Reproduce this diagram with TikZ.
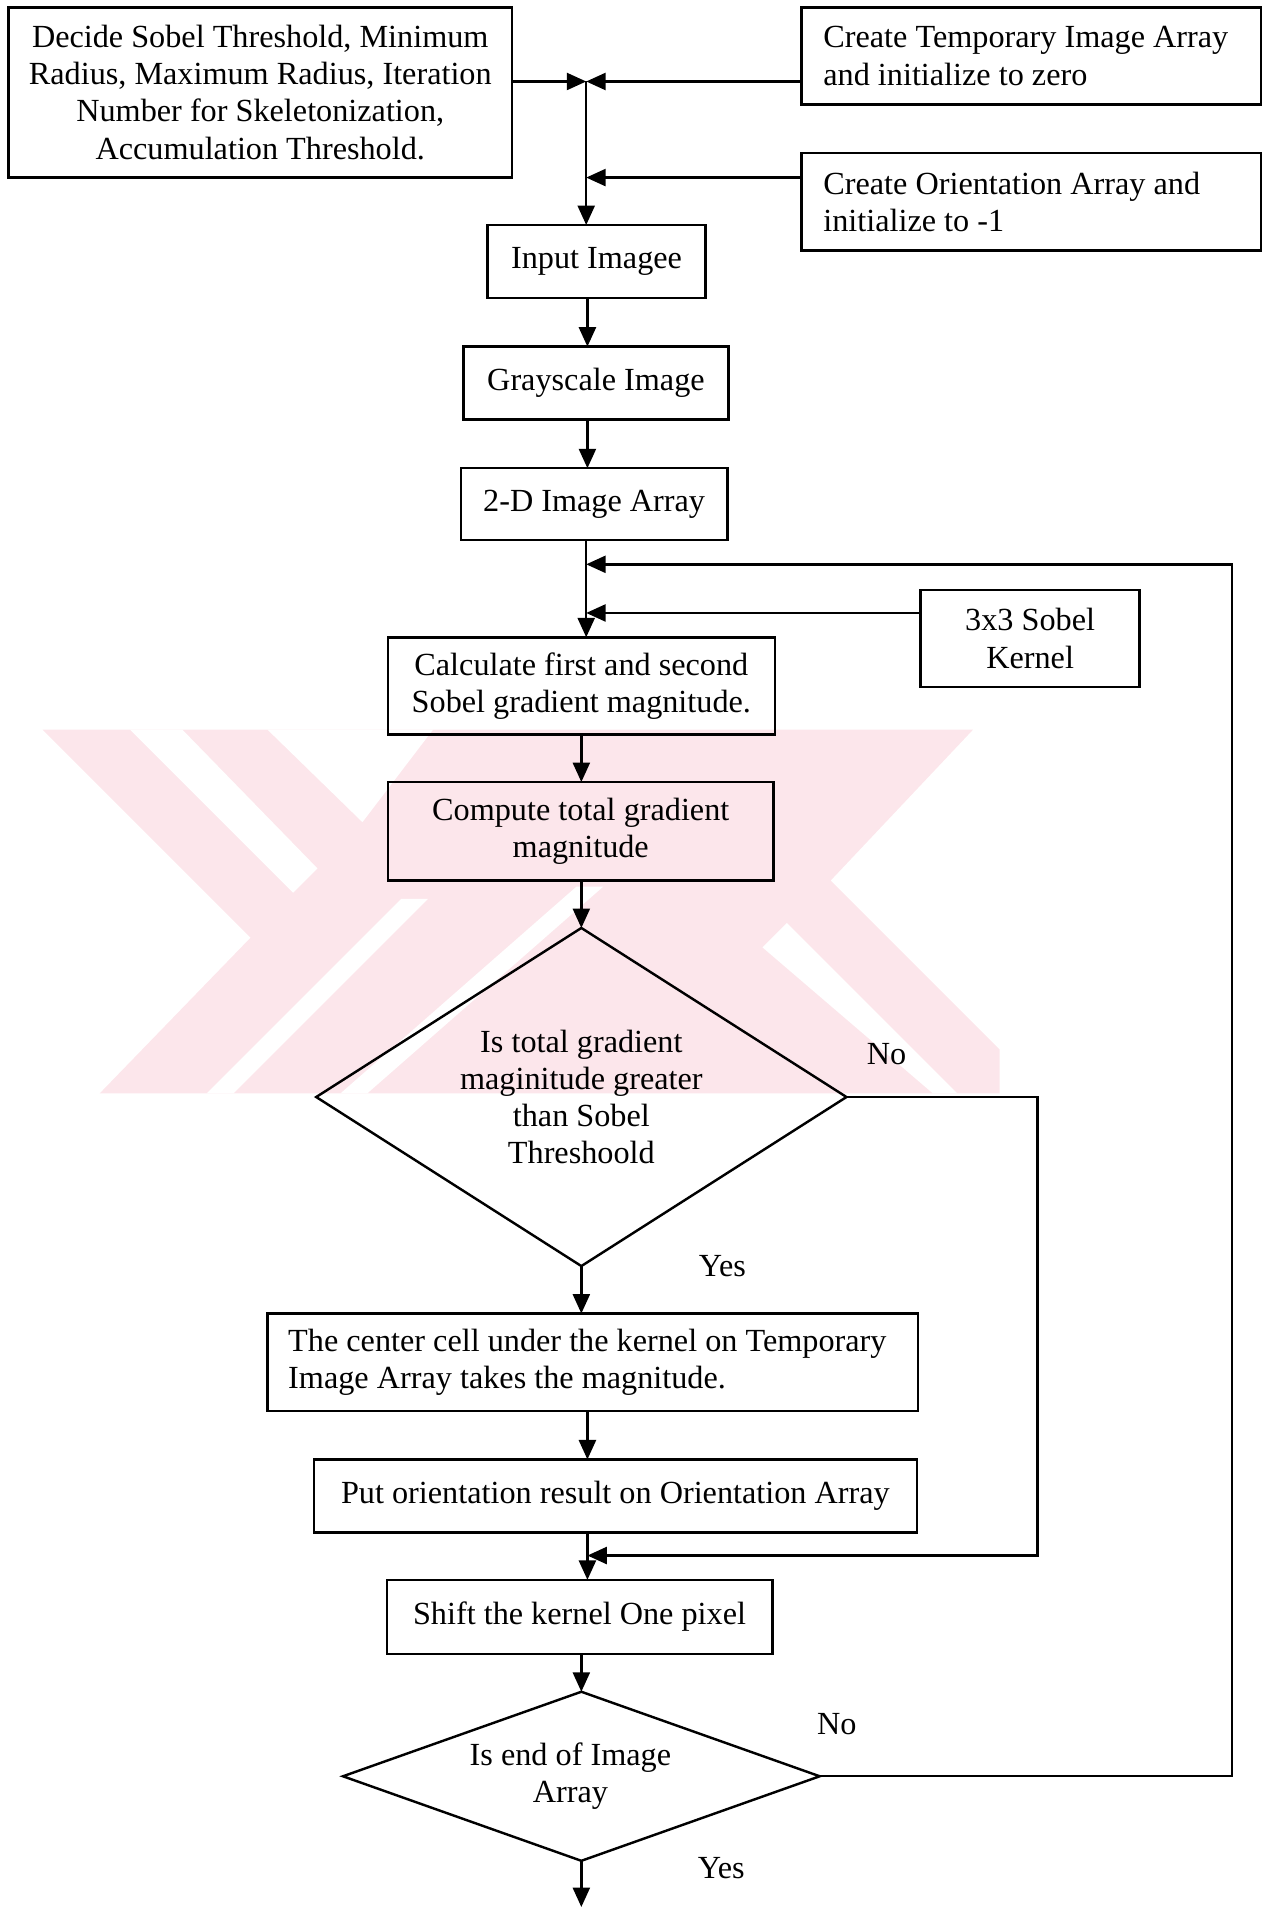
\documentclass[tikz,border=0pt]{standalone}
\usepackage{fontspec}
\setmainfont{Liberation Serif}
\usetikzlibrary{arrows.meta,shapes.geometric}
\definecolor{wmark}{RGB}{252,230,235}
\begin{document}
\begin{tikzpicture}[x=1pt,y=-1pt,
  every node/.style={font=\fontsize{26.5}{30.5}\selectfont, inner sep=0pt, outer sep=0pt},
  box/.style={draw, line width=2pt, rectangle, align=center},
  lbox/.style={draw, line width=2pt, rectangle, align=flush left},
  dec/.style={draw, line width=2pt, diamond, align=center},
  arr/.style={line width=2pt, -{Triangle[length=16pt,width=14pt]}},
]
\useasboundingbox (0,0) rectangle (1042,1568);

% faint background emblem
\fill[wmark] (35,600) -- (800,600) -- (683,724) -- (822,863) -- (822,899) -- (82,899) -- (206,771) -- cycle;
\fill[white] (107,600) -- (150,600) -- (261,714) -- (241,734) -- cycle;
\fill[white] (220,600) -- (356,600) -- (298,676) -- cycle;
\fill[white] (170,899) -- (192,899) -- (352,739) -- (330,739) -- cycle;
\fill[white] (280,899) -- (302,899) -- (496,729) -- (474,729) -- cycle;
\fill[white] (627,779) -- (647,759) -- (787,899) -- (767,899) -- cycle;

% column positions of the main vertical flow
\coordinate (cA) at (483,0);
\coordinate (cB) at (478,0);
\coordinate (cJ) at (482,0);

% process boxes
\node[box, minimum width=414pt, minimum height=140pt] (decide) at (214,76)
  {Decide Sobel Threshold, Minimum\\Radius, Maximum Radius, Iteration\\Number for Skeletonization,\\Accumulation Threshold.};
\node[lbox, inner xsep=18pt, text width=342pt, minimum height=80pt] (temp) at (848,46)
  {Create Temporary Image Array\\and initialize to zero};
\node[lbox, inner xsep=18pt, text width=342pt, minimum height=80pt] (orient) at (848,166)
  {Create Orientation Array and\\initialize to -1};
\node[box, minimum width=179pt, minimum height=60pt] (input) at (490.5,215) {Input Imagee};
\node[box, minimum width=218pt, minimum height=60pt] (gray) at (490,315) {Grayscale Image};
\node[box, minimum width=219pt, minimum height=59pt] (arr2d) at (488.5,414.5) {2-D Image Array};
\node[box, minimum width=180pt, minimum height=80pt] (sobel) at (847,525) {3x3 Sobel\\Kernel};
\node[box, minimum width=318pt, minimum height=80pt] (calc) at (478,564)
  {Calculate first and second\\Sobel gradient magnitude.};
\node[box, minimum width=317pt, minimum height=81pt] (comp) at (477.5,683.5)
  {Compute total gradient\\magnitude};
\node[dec, aspect=1.568, minimum width=436pt, minimum height=278pt] (dia1) at (478,902)
  {Is total gradient\\maginitude greater\\than Sobel\\Threshoold};
\node[lbox, inner xsep=17pt, text width=501pt, minimum height=80pt] (center) at (487.5,1120)
  {The center cell under the kernel on Temporary\\Image Array takes the magnitude.};
\node[box, minimum width=496pt, minimum height=60pt] (put) at (506,1230)
  {Put orientation result on Orientation Array};
\node[box, minimum width=317pt, minimum height=61pt] (shift) at (476.5,1329.5)
  {Shift the kernel One pixel};
\node[dec, aspect=2.82, minimum width=392pt, minimum height=139pt] (dia2) at (478,1460.5)
  {Is end of Image\hspace*{18pt}\\Array\hspace*{18pt}};

% branch labels
\node (no1) at (729,867) {No};
\node (yes1) at (594,1041) {Yes};
\node (no2) at (688,1418) {No};
\node (yes2) at (593,1536) {Yes};

% junction points
\coordinate (jn) at (482,67);
\coordinate (jo) at (482,146);
\coordinate (jl) at (482,464);
\coordinate (jk) at (482,504);
\coordinate (jy) at (483,1279);
\coordinate (rn) at (853,1279);
\coordinate (rl) at (1013,464);
\coordinate (endp) at (478,1568);

% connectors
\draw[arr] (decide.east |- jn) -- (jn);
\draw[arr] (temp.west |- jn) -- (jn);
\draw[arr] (jn) -- (input.north -| jn);
\draw[arr] (orient.west |- jo) -- (jo);
\draw[arr] (input.south -| cA) -- (gray.north -| cA);
\draw[arr] (gray.south -| cA) -- (arr2d.north -| cA);
\draw[arr] (arr2d.south -| cJ) -- (calc.north -| cJ);
\draw[arr] (dia2.east) -| (rl) -- (jl);
\draw[arr] (sobel.west |- jk) -- (jk);
\draw[arr] (calc.south -| cB) -- (comp.north -| cB);
\draw[arr] (comp.south -| cB) -- (dia1.north);
\draw[arr] (dia1.south) -- (center.north -| cB);
\draw[arr] (dia1.east) -| (rn) -- (jy);
\draw[arr] (center.south -| cA) -- (put.north -| cA);
\draw[arr] (put.south -| cA) -- (shift.north -| cA);
\draw[arr] (shift.south -| cB) -- (dia2.north);
\draw[arr] (dia2.south) -- (endp);
\end{tikzpicture}
\end{document}
